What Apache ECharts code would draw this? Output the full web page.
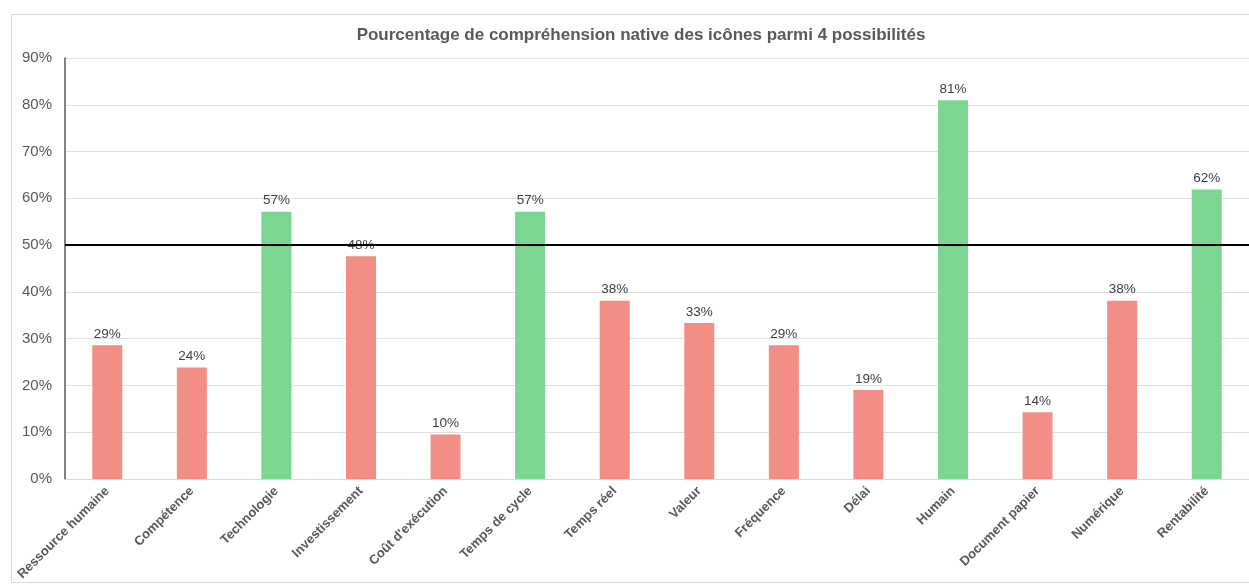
<!DOCTYPE html>
<html>
<head>
<meta charset="utf-8">
<script src="https://cdn.jsdelivr.net/npm/echarts@6/dist/echarts.min.js"></script>
<style>
  html, body { margin: 0; padding: 0; background: #fff; }
  #chart { width: 1249px; height: 586px; }
</style>
</head>
<body>
<div id="chart"></div>
<script>
const categories = ["Ressource humaine", "Compétence", "Technologie", "Investissement", "Coût d'exécution", "Temps de cycle", "Temps réel", "Valeur", "Fréquence", "Délai", "Humain", "Document papier", "Numérique", "Rentabilité"];
const values = [28.57, 23.81, 57.14, 47.62, 9.52, 57.14, 38.10, 33.33, 28.57, 19.05, 80.95, 14.29, 38.10, 61.90];
const isGreen = [false, false, true, false, false, true, false, false, false, false, true, false, false, true];
const threshold = 50;
const yTicks = [0, 10, 20, 30, 40, 50, 60, 70, 80, 90];

const RED = "#F28E86";
const GREEN = "#7AD691";

const chart = echarts.init(document.getElementById("chart"));

chart.setOption({
    animation: false,
    graphic: [
        {
            type: "rect",
            shape: { x: 11.5, y: 14.5, width: 1260, height: 568 },
            style: { fill: "none", stroke: "#d9d9d9", lineWidth: 1 },
            silent: true
        }
    ],
    title: {
        text: "Pourcentage de compréhension native des icônes parmi 4 possibilités",
        left: 636,
        textAlign: "center",
        top: 22,
        textStyle: {
            fontFamily: "Liberation Sans",
            fontSize: 17,
            fontWeight: "bold",
            color: "#595959"
        }
    },
    grid: {
        left: 65,
        right: 0,
        top: 58,
        bottom: 107,
        containLabel: false
    },
    xAxis: {
        type: "category",
        data: categories,
        axisLine: { lineStyle: { color: "#d9d9d9", width: 1 } },
        axisTick: { show: false },
        axisLabel: {
            rotate: 45,
            interval: 0,
            margin: 10,
            fontFamily: "Liberation Sans",
            fontSize: 13,
            fontWeight: "bold",
            color: "#595959"
        }
    },
    yAxis: {
        type: "value",
        min: 0,
        max: 90,
        interval: 10,
        axisLine: { show: true, lineStyle: { color: "#595959", width: 1.5 } },
        axisTick: { show: false },
        splitLine: { lineStyle: { color: "#e0e0e0", width: 1 } },
        axisLabel: {
            margin: 13,
            fontFamily: "Liberation Sans",
            fontSize: 15,
            color: "#595959",
            formatter: v => yTicks.includes(v) ? v + "%" : ""
        }
    },
    series: [
        {
            type: "bar",
            barWidth: 30,
            data: values.map((v, i) => ({
                value: v,
                itemStyle: { color: isGreen[i] ? GREEN : RED }
            })),
            label: {
                show: true,
                position: "top",
                distance: 4,
                fontFamily: "Liberation Sans",
                fontSize: 13.5,
                color: "#404040",
                formatter: p => Math.round(p.value) + "%"
            },
            markLine: {
                silent: true,
                symbol: "none",
                label: { show: false },
                lineStyle: { color: "#000", width: 2, type: "solid" },
                data: [{ yAxis: threshold }]
            }
        }
    ]
});
</script>
</body>
</html>
